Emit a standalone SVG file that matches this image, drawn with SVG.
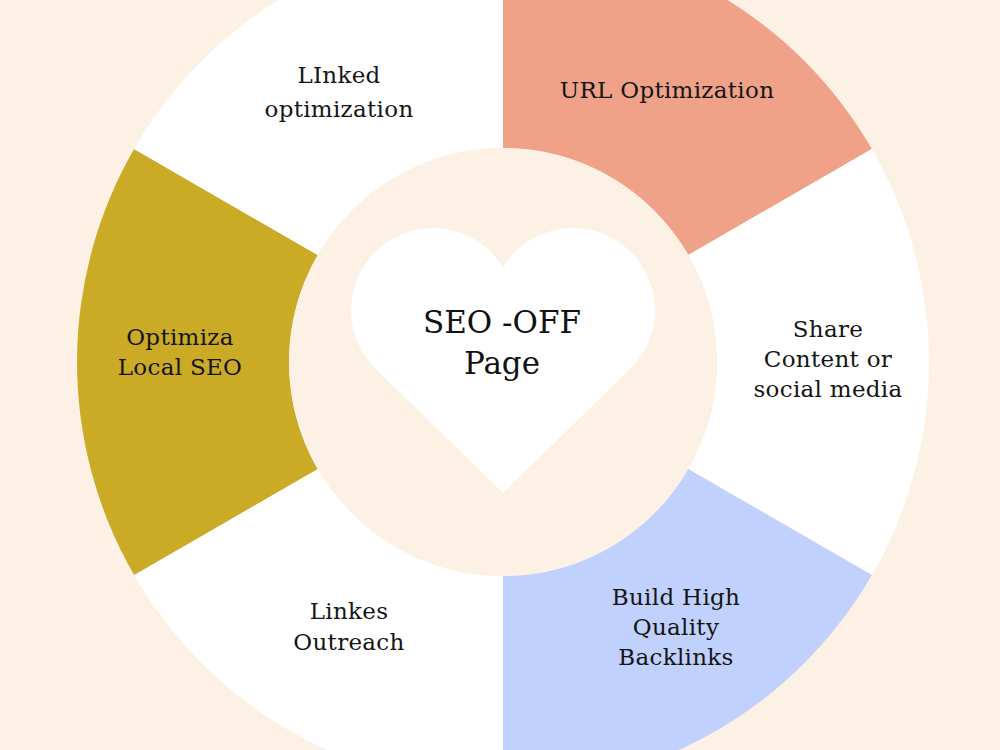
<svg xmlns="http://www.w3.org/2000/svg" width="1000" height="750" viewBox="0 0 1000 750">
  <style>
    .lbl { font-family: "DejaVu Serif", "Liberation Serif", serif; font-size: 23px; letter-spacing: 0.3px; fill: #151515; text-anchor: middle; }
    .ctr { font-family: "DejaVu Serif", "Liberation Serif", serif; font-size: 31px; fill: #111; text-anchor: middle; }
  </style>
  <rect width="1000" height="750" fill="#FDF0E4"/>
  <g id="segments">
    <g id="seg-url">
      <path d="M503,-64 A426,426 0 0 1 871.9,149 L688.3,255 A214,214 0 0 0 503,148 Z" fill="#EFA288"/>
      <text class="lbl" x="667" y="98">URL Optimization</text>
    </g>
    <g id="seg-share">
      <path d="M871.9,149 A426,426 0 0 1 871.9,575 L688.3,469 A214,214 0 0 0 688.3,255 Z" fill="#FFFFFF"/>
      <text class="lbl" x="828" y="337">Share</text>
      <text class="lbl" x="828" y="367">Content or</text>
      <text class="lbl" x="828" y="397">social media</text>
    </g>
    <g id="seg-backlinks">
      <path d="M871.9,575 A426,426 0 0 1 503,788 L503,576 A214,214 0 0 0 688.3,469 Z" fill="#C1D1FD"/>
      <text class="lbl" x="676" y="605">Build High</text>
      <text class="lbl" x="676" y="635">Quality</text>
      <text class="lbl" x="676" y="665">Backlinks</text>
    </g>
    <g id="seg-outreach">
      <path d="M503,788 A426,426 0 0 1 134.1,575 L317.7,469 A214,214 0 0 0 503,576 Z" fill="#FFFFFF"/>
      <text class="lbl" x="349" y="619">Linkes</text>
      <text class="lbl" x="349" y="650">Outreach</text>
    </g>
    <g id="seg-local">
      <path d="M134.1,575 A426,426 0 0 1 134.1,149 L317.7,255 A214,214 0 0 0 317.7,469 Z" fill="#CBAB26"/>
      <text class="lbl" x="180" y="345">Optimiza</text>
      <text class="lbl" x="180" y="375">Local SEO</text>
    </g>
    <g id="seg-linked">
      <path d="M134.1,149 A426,426 0 0 1 503,-64 L503,148 A214,214 0 0 0 317.7,255 Z" fill="#FFFFFF"/>
      <text class="lbl" x="339" y="83">LInked</text>
      <text class="lbl" x="339" y="117">optimization</text>
    </g>
  </g>
  <g id="center">
    <circle cx="503" cy="362" r="214" fill="#FDF0E4"/>
    <path d="M503,493 L375.7,368.7 A82,82 0 1 1 503,267.3 A82,82 0 1 1 630.3,368.7 Z" fill="#FFFFFF"/>
    <text class="ctr" x="502" y="333">SEO -OFF</text>
    <text class="ctr" x="502" y="374">Page</text>
  </g>
</svg>
